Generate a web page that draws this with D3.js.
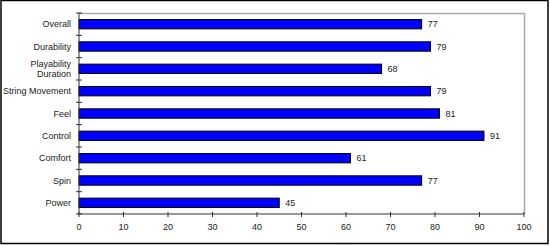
<!DOCTYPE html>
<html>
<head>
<meta charset="utf-8">
<script src="https://cdn.jsdelivr.net/npm/d3@7"></script>
<style>
  body { margin: 0; background: #fff; }
  text { font-family: "Liberation Sans", Arial, sans-serif; font-size: 9px; fill: #222; }
</style>
</head>
<body>
<div id="chart"></div>
<script>
const categories = ["Overall", "Durability", "Playability Duration", "String Movement", "Feel", "Control", "Comfort", "Spin", "Power"];
const values = [77, 79, 68, 79, 81, 91, 61, 77, 45];
const xTicks = [0, 10, 20, 30, 40, 50, 60, 70, 80, 90, 100];

const W = 550, H = 246;
const margin = { top: 13, right: 26, bottom: 32, left: 79 };
const width = W - margin.left - margin.right;
const height = H - margin.top - margin.bottom;

const root = d3.select("#chart").append("svg").attr("width", W).attr("height", H);

// outer frame
root.append("rect")
  .attr("x", 1).attr("y", 0.5).attr("width", 547).attr("height", 243)
  .attr("fill", "#fff").attr("stroke", "#000").attr("stroke-width", 1.5);

const svg = root.append("g").attr("transform", `translate(${margin.left},${margin.top})`);

const x = d3.scaleLinear().domain([0, 100]).range([0, width]);
const y = d3.scaleBand().domain(categories).range([0, height]).paddingInner(0.58).paddingOuter(0.29);
const band = d3.scaleBand().domain(categories).range([0, height]);

// plot area border (top and right), grey
svg.append("path")
  .attr("d", `M0,0.5H${width + 0.5}V${height}`)
  .attr("fill", "none").attr("stroke", "#aaa").attr("stroke-width", 1.5);

svg.selectAll(".bar").data(values).enter().append("rect")
  .attr("class", "bar")
  .attr("x", 0)
  .attr("y", (d, i) => y(categories[i]))
  .attr("width", (d) => x(d))
  .attr("height", y.bandwidth())
  .attr("fill", "#0000ff")
  .attr("stroke", "#000")
  .attr("stroke-width", 1);

svg.selectAll(".val").data(values).enter().append("text")
  .attr("class", "val")
  .attr("x", (d) => x(d) + 6)
  .attr("y", (d, i) => y(categories[i]) + y.bandwidth() / 2)
  .attr("dy", "0.35em")
  .text((d) => d);

// y axis with cross ticks at band boundaries
const yAxis = svg.append("g");
yAxis.append("line").attr("x1", 0).attr("x2", 0).attr("y1", 0).attr("y2", height).attr("stroke", "#333");
const bounds = categories.map((c) => band(c)).concat([height]);
yAxis.selectAll(".yt").data(bounds).enter().append("line")
  .attr("x1", -3).attr("x2", 3)
  .attr("y1", (d) => d).attr("y2", (d) => d)
  .attr("stroke", "#333");

categories.forEach((c, i) => {
  const t = yAxis.append("text")
    .attr("x", -8)
    .attr("text-anchor", "end");
  const cy = band(c) + band.bandwidth() / 2;
  if (c === "Playability Duration") {
    t.append("tspan").attr("x", -8).attr("y", cy - 5).attr("dy", "0.35em").text("Playability");
    t.append("tspan").attr("x", -8).attr("y", cy + 5).attr("dy", "0.35em").text("Duration");
  } else {
    t.attr("y", cy).attr("dy", "0.35em").text(c);
  }
});

// x axis
const xAxis = svg.append("g").attr("transform", `translate(0,${height})`);
xAxis.append("line").attr("x1", 0).attr("x2", width).attr("stroke", "#333").attr("stroke-width", 1.2);
xAxis.selectAll(".xt").data(xTicks).enter().append("line")
  .attr("x1", (d) => x(d)).attr("x2", (d) => x(d))
  .attr("y1", -2).attr("y2", 3)
  .attr("stroke", "#333");
xAxis.selectAll(".xl").data(xTicks).enter().append("text")
  .attr("x", (d) => x(d))
  .attr("y", 16)
  .attr("text-anchor", "middle")
  .text((d) => d);
</script>
</body>
</html>
